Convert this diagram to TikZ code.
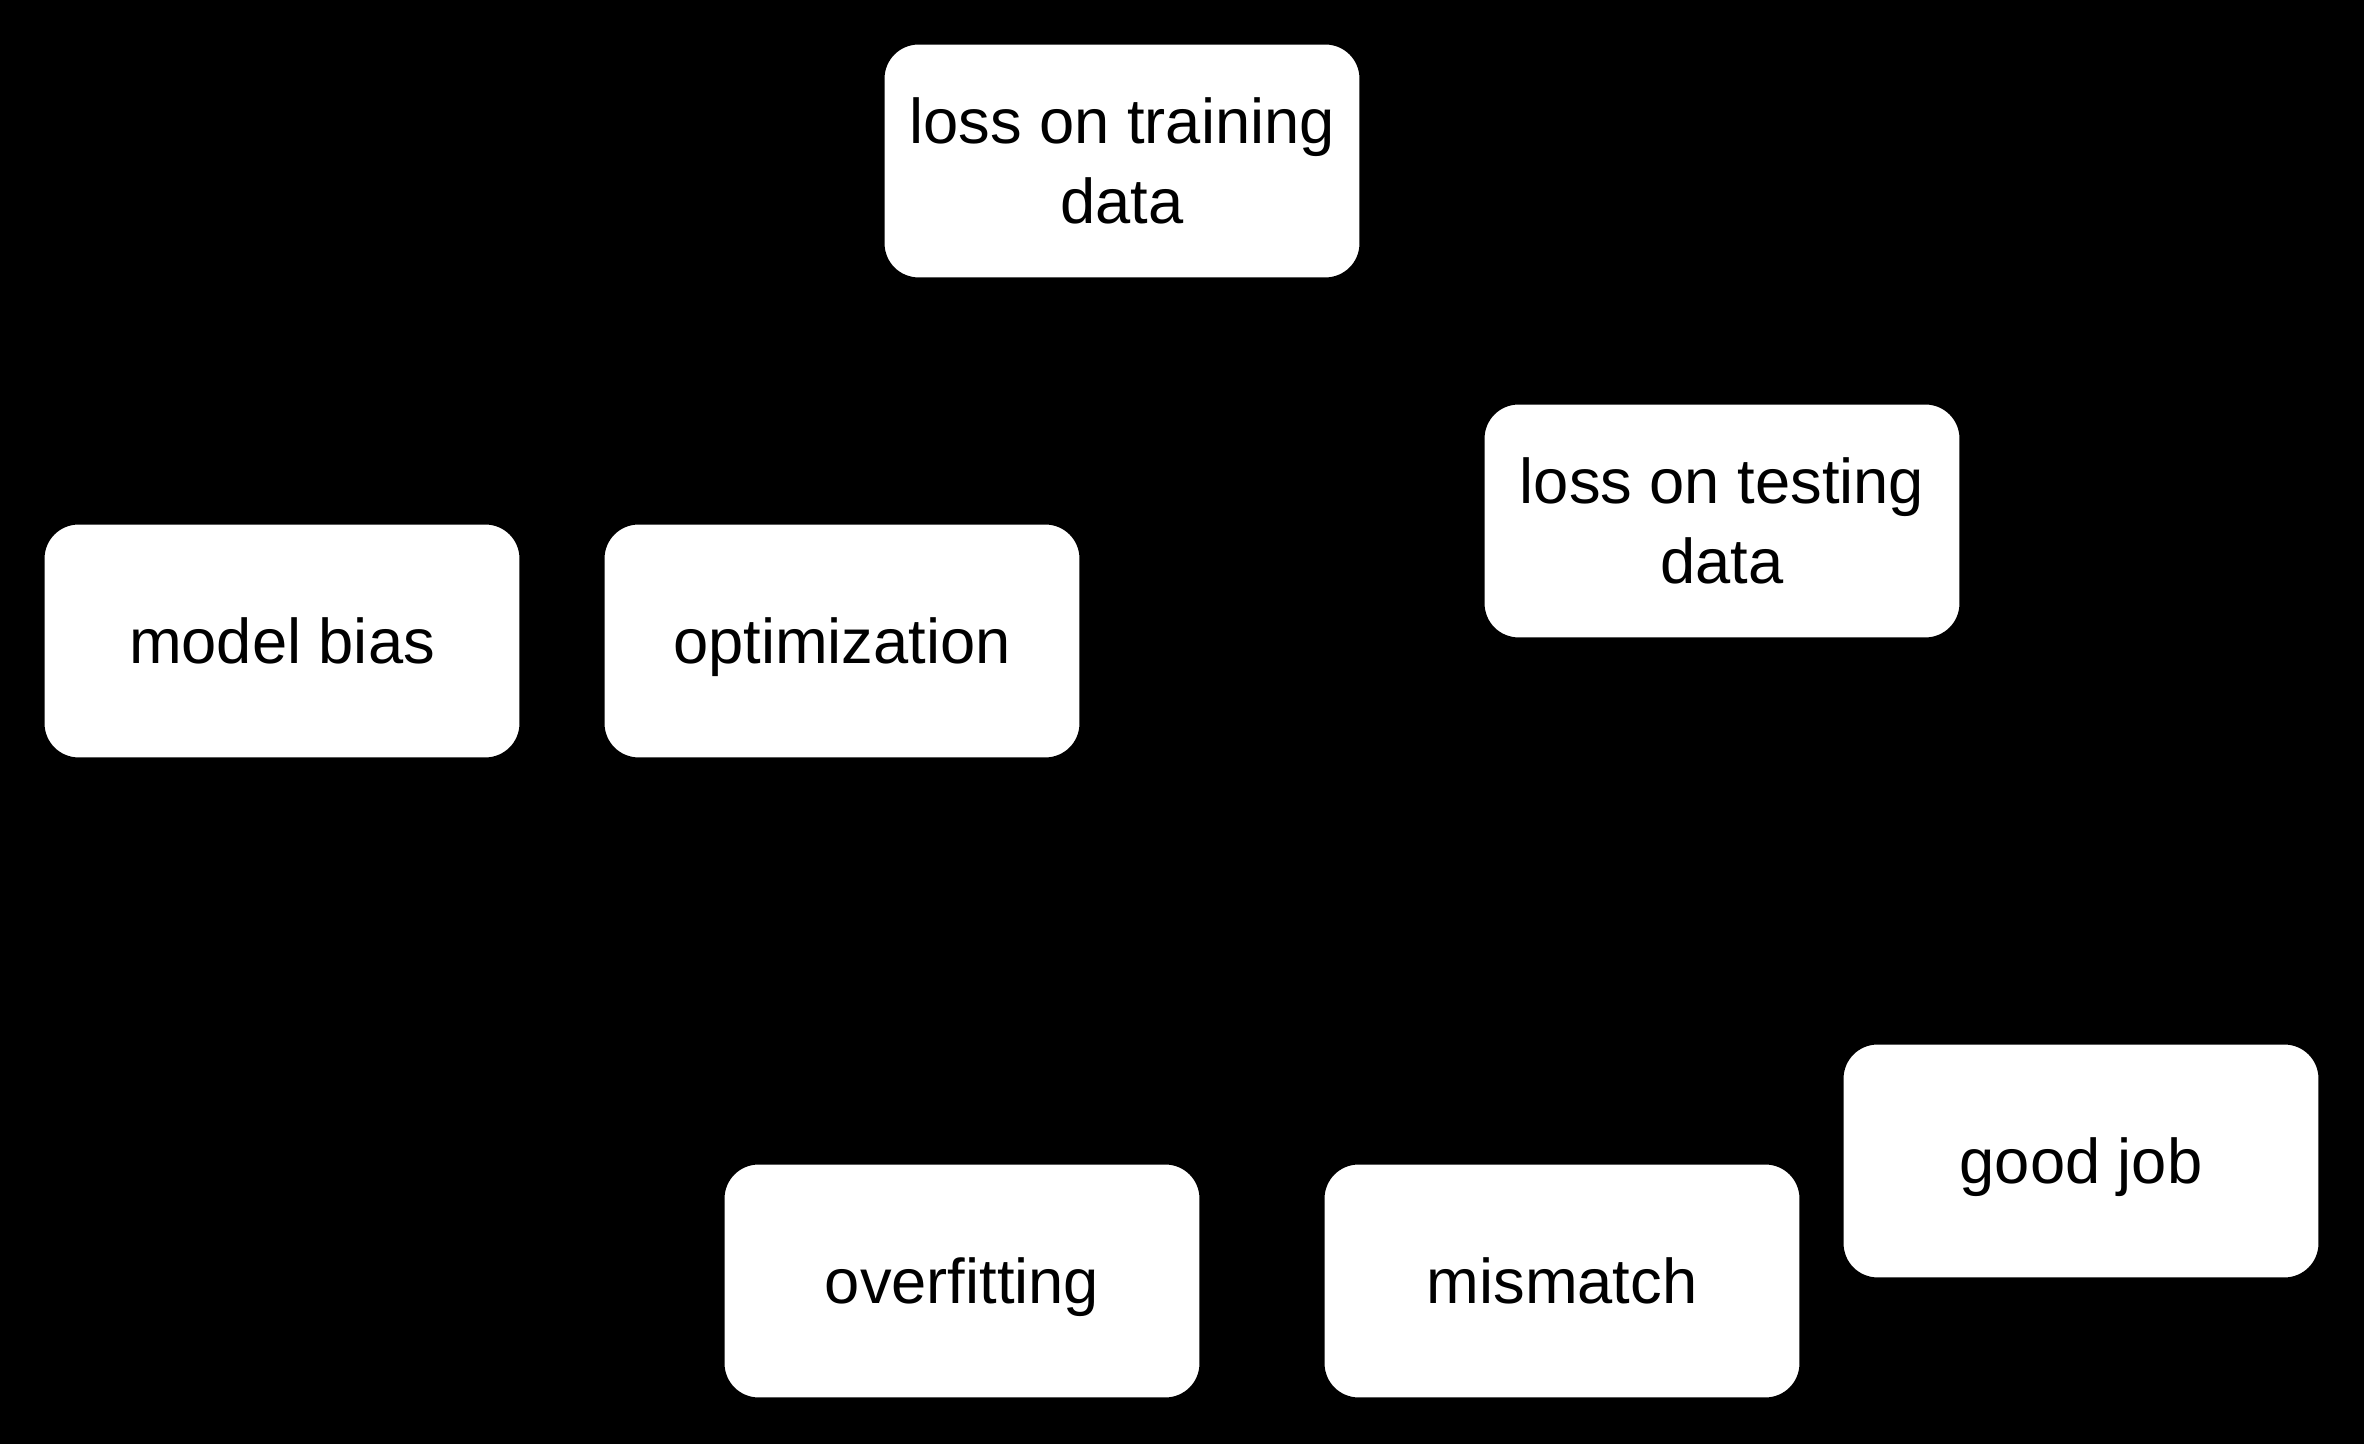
\documentclass[tikz,border=0pt]{standalone}
\usepackage{fontspec}
\setmainfont{Liberation Sans}
\usepackage{tikz}
% one line without height/depth, so the text sits like the boxes' text
\newcommand{\flatline}[1]{\rule{0pt}{0.46cm}\raisebox{0pt}[0pt][0pt]{#1}}

\begin{document}
\begin{tikzpicture}[x=1cm,y=1cm,box/.style={rectangle,draw=black,fill=white,line width=0.6pt,rounded corners=0.35cm,minimum width=4.77cm,minimum height=2.35cm,align=center,font=\fontsize{18}{22.7}\selectfont}]
\fill[black] (0,0) rectangle (23.64,14.44);
\useasboundingbox (0,0) rectangle (23.64,14.44);
\node[box] (train) at (11.22,12.83) {loss on training\\data};
\node[box] (test) at (17.22,9.23) {loss on testing\\data};
\node[box] (bias) at (2.82,8.03) {\flatline{model bias}};
\node[box] (optim) at (8.42,8.03) {\flatline{optimization}};
\node[box] (overfit) at (9.62,1.63) {\flatline{overfitting}};
\node[box] (mismatch) at (15.62,1.63) {\flatline{mismatch}};
\node[box] (goodjob) at (20.81,2.83) {\flatline{good job}};
\end{tikzpicture}
\end{document}
